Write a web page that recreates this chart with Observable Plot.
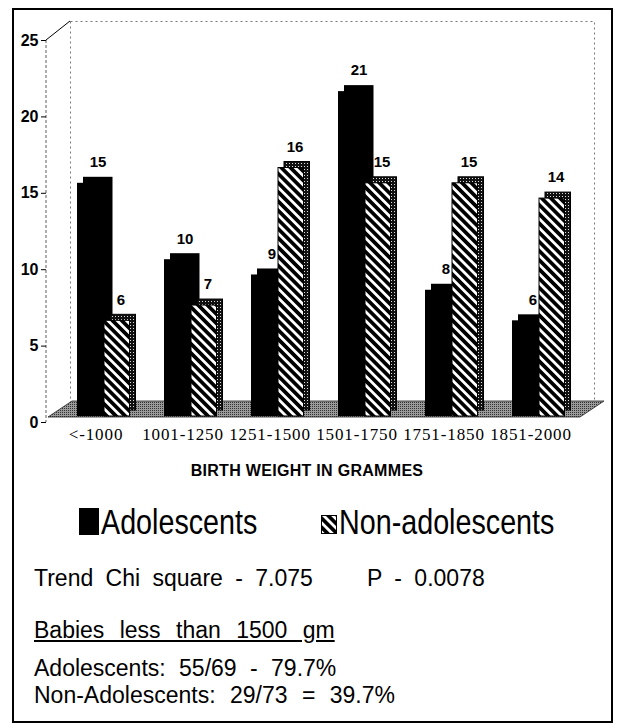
<!DOCTYPE html>
<html><head><meta charset="utf-8">
<script src="https://cdn.jsdelivr.net/npm/d3@7"></script>
<script src="https://cdn.jsdelivr.net/npm/@observablehq/plot@0.6"></script>
<style>
html,body{margin:0;padding:0;background:#fff;}
#page{position:relative;width:618px;height:725px;overflow:hidden;font-family:"Liberation Sans",Arial,sans-serif;color:#000;}
#border{position:absolute;left:12px;top:8px;width:601px;height:715px;box-sizing:border-box;border:2px solid #000;pointer-events:none;}
#chart{position:absolute;left:0;top:0;}
.t{position:absolute;white-space:pre;line-height:1;}
#chart [aria-label="x-axis tick label"] text{letter-spacing:0.9px;}
</style>
</head><body>
<svg width="0" height="0" style="position:absolute">
  <defs>
    <pattern id="hatch" width="6.5" height="6.5" patternUnits="userSpaceOnUse" patternTransform="rotate(-45)">
      <rect width="6.5" height="6.5" fill="#000"/><rect width="2.8" height="6.5" fill="#fff"/>
    </pattern>
    <pattern id="dots" width="3" height="3" patternUnits="userSpaceOnUse">
      <rect width="3" height="3" fill="#111"/><rect x="1" y="1" width="1" height="1" fill="#ddd"/>
    </pattern>
    <pattern id="floor" width="2" height="2" patternUnits="userSpaceOnUse">
      <rect width="2" height="2" fill="#9a9a9a"/><rect width="1" height="1" fill="#333"/>
    </pattern>
  </defs>
</svg>
<div id="page">
  <div id="chart"></div>
  <div id="border"></div>
</div>
<script>
// ---- data ----
const categories = ["<-1000", "1001-1250", "1251-1500", "1501-1750", "1751-1850", "1851-2000"];
const series = ["Adolescents", "Non-adolescents"];
const adolescents = [15, 10, 9, 21, 8, 6];
const nonAdolescents = [6, 7, 16, 15, 15, 14];
const yTicks = [0, 5, 10, 15, 20, 25];
const xTitle = "BIRTH WEIGHT IN GRAMMES";
const statChi = ["Trend Chi square - 7.075", "P - 0.0078"];
const statHeading = "Babies less than 1500 gm";
const statLines = ["Adolescents: 55/69 - 79.7%", "Non-Adolescents: 29/73 = 39.7%"];

const adoRows = categories.map((c, i) => ({cat: c, series: series[0], value: adolescents[i]}));
const nonRows = categories.map((c, i) => ({cat: c, series: series[1], value: nonAdolescents[i]}));

// decorative 3D floor / axis line / wall corner, positioned from the plot's scales
function decor(index, scales, values, dims) {
  const g = d3.create("svg:g");
  const y0 = scales.y(0), yTop = scales.y(25);
  const xl = dims.marginLeft, xr = dims.width - dims.marginRight;
  const dX = 24, dY = -16;
  const f0 = y0 - 5;
  g.append("polygon")
    .attr("points", [[xl + 2, f0], [xr + 10, f0], [xr + 10 + dX, f0 + dY], [xl + 2 + dX, f0 + dY]].map(p => p.join(",")).join(" "))
    .attr("fill", "url(#floor)").attr("stroke", "#222").attr("stroke-width", 0.8);
  g.append("line").attr("x1", xl).attr("x2", xl).attr("y1", yTop).attr("y2", y0)
    .attr("stroke", "#333").attr("stroke-width", 0.8).attr("stroke-dasharray", "3,2");
  g.append("line").attr("x1", xl).attr("y1", yTop).attr("x2", xl + 24).attr("y2", yTop - 19)
    .attr("stroke", "#000").attr("stroke-width", 1);
  return g.node();
}

const chart = Plot.plot({
  width: 618,
  height: 445,
  marginLeft: 46,
  marginRight: 48,
  marginTop: 40,
  marginBottom: 23,
  style: {background: "transparent", fontFamily: "Liberation Sans, Arial, sans-serif", overflow: "visible"},
  x: {domain: categories, range: [50, 575], padding: 0},
  y: {domain: [0, 25]},
  marks: [
    Plot.frame({dx: 24, dy: -19, stroke: "#555", strokeWidth: 0.8, strokeDasharray: "2,3"}),
    decor,
    Plot.axisY({ticks: yTicks, tickSize: 5, tickPadding: 3, fontSize: 16, fontWeight: "bold", label: null}),
    Plot.axisX({tickSize: 0, tickPadding: 5, fontSize: 17, fontFamily: "Liberation Serif, Times New Roman, serif", label: null}),
    // Adolescents: side/top face then front face
    Plot.barY(adoRows, {x: "cat", y: "value", fill: "#000", insetLeft: 25, insetRight: 32.5, insetTop: -4, dx: 6, dy: -12}),
    Plot.barY(adoRows, {x: "cat", y: "value", fill: "#000", insetLeft: 25, insetRight: 32.5, insetTop: -4, dy: -6}),
    // Non-adolescents
    Plot.barY(nonRows, {x: "cat", y: "value", fill: "url(#dots)", stroke: "#000", strokeWidth: 1, insetLeft: 52, insetRight: 9.5, insetTop: -4, dx: 6, dy: -12}),
    Plot.barY(nonRows, {x: "cat", y: "value", fill: "url(#hatch)", stroke: "#000", strokeWidth: 1, insetLeft: 52, insetRight: 9.5, insetTop: -4, dy: -6}),
    Plot.text(adoRows, {x: "cat", y: "value", text: d => String(d.value), dx: 2, dy: -31, fontSize: 15, fontWeight: "bold"}),
    Plot.text(nonRows, {x: "cat", y: "value", text: d => String(d.value), dx: 25, dy: -31, fontSize: 15, fontWeight: "bold"})
  ]
});
document.getElementById("chart").appendChild(chart);

// ---- text blocks below the plot ----
const page = document.getElementById("page");
function addText(str, left, baseline, size, extra) {
  const d = document.createElement("div");
  d.className = "t";
  d.textContent = str;
  d.style.fontSize = size + "px";
  d.style.top = (baseline - 0.8465 * size) + "px";
  d.style.left = left + "px";
  Object.assign(d.style, extra || {});
  page.appendChild(d);
  return d;
}
addText(xTitle, 0, 477, 16, {width: "614px", textAlign: "center", fontWeight: "bold", letterSpacing: "0.3px"});

// legend
function legendItem(name, swatchLeft, swW, swTop, swH, textLeft, fill) {
  const s = document.createElementNS("http://www.w3.org/2000/svg", "svg");
  s.setAttribute("width", swW); s.setAttribute("height", swH);
  s.style.position = "absolute"; s.style.left = swatchLeft + "px"; s.style.top = swTop + "px";
  const r = document.createElementNS("http://www.w3.org/2000/svg", "rect");
  r.setAttribute("width", swW); r.setAttribute("height", swH);
  r.setAttribute("fill", fill); r.setAttribute("stroke", "#000"); r.setAttribute("stroke-width", 2);
  s.appendChild(r);
  page.appendChild(s);
  addText(name, textLeft, 534, 35, {transform: "scaleX(0.82)", transformOrigin: "0 50%"});
}
legendItem(series[0], 79, 20, 508, 27, 101, "#000");
legendItem(series[1], 321, 16, 515, 19, 339, "url(#hatch)");

addText(statChi[0], 34, 586, 23, {wordSpacing: "6px"});
addText(statChi[1], 367, 586, 23, {wordSpacing: "6px"});
addText(statHeading, 34, 638, 23, {wordSpacing: "9px", textDecoration: "underline"});
addText(statLines[0], 34, 676, 23, {wordSpacing: "7px"});
addText(statLines[1], 34, 703, 23, {wordSpacing: "8px"});
</script>
</body></html>
